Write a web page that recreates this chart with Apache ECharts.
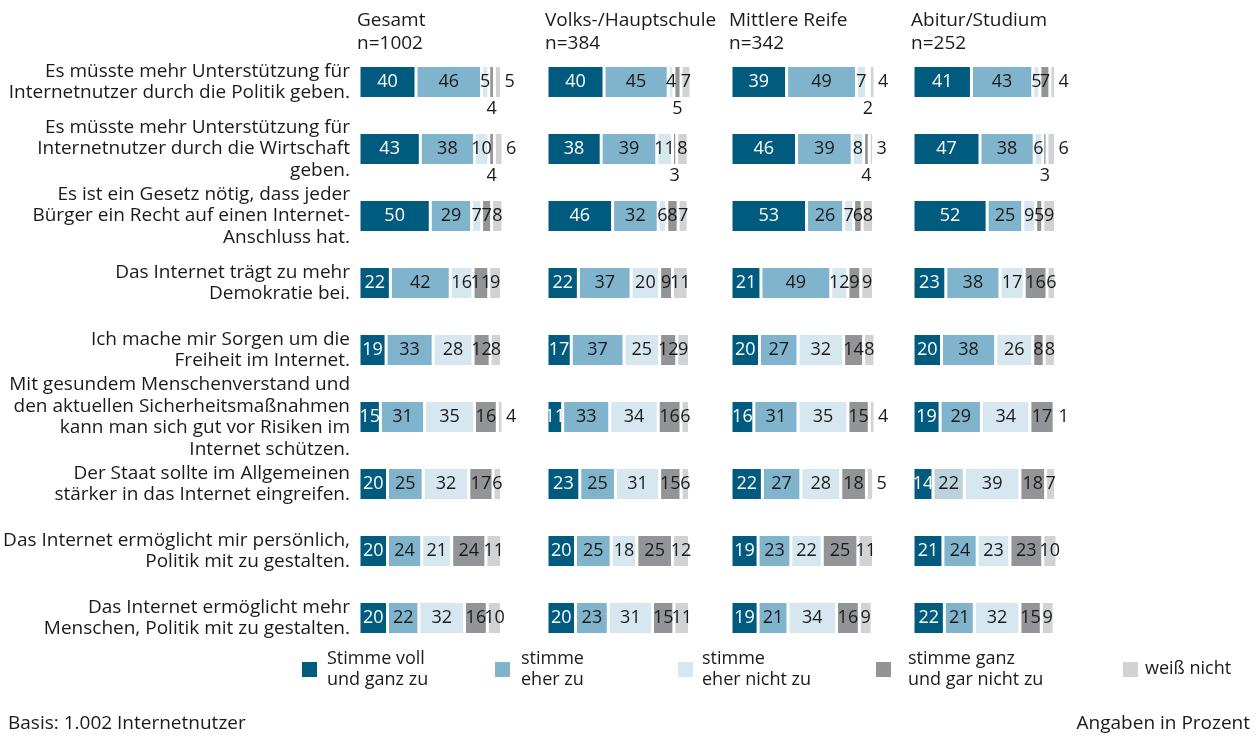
<!DOCTYPE html>
<html>
<head>
<meta charset="utf-8">
<script src="https://cdn.jsdelivr.net/npm/echarts@6/dist/echarts.min.js"></script>
<style>
html,body{margin:0;padding:0;background:#fff;}
#c{width:1258px;height:738px;}
</style>
</head>
<body>
<div id="c"></div>
<script>
// ---------- DATA ----------
const categories = [
  'Es müsste mehr Unterstützung für\nInternetnutzer durch die Politik geben.',
  'Es müsste mehr Unterstützung für\nInternetnutzer durch die Wirtschaft\ngeben.',
  'Es ist ein Gesetz nötig, dass jeder\nBürger ein Recht auf einen Internet-\nAnschluss hat.',
  'Das Internet trägt zu mehr\nDemokratie bei.',
  'Ich mache mir Sorgen um die\nFreiheit im Internet.',
  'Mit gesundem Menschenverstand und\nden aktuellen Sicherheitsmaßnahmen\nkann man sich gut vor Risiken im\nInternet schützen.',
  'Der Staat sollte im Allgemeinen\nstärker in das Internet eingreifen.',
  'Das Internet ermöglicht mir persönlich,\nPolitik mit zu gestalten.',
  'Das Internet ermöglicht mehr\nMenschen, Politik mit zu gestalten.'
];
const panelTitles = ['Gesamt', 'Volks-/Hauptschule', 'Mittlere Reife', 'Abitur/Studium'];
const panelN = ['n=1002', 'n=384', 'n=342', 'n=252'];
const segmentNames = ['Stimme voll\nund ganz zu', 'stimme\neher zu', 'stimme\neher nicht zu', 'stimme ganz\nund gar nicht zu', 'weiß nicht'];

// rows: [voll, eher, eher nicht, gar nicht, weiß nicht]
const gesamtRows = [
  [40, 46, 5, 4, 5],
  [43, 38, 10, 4, 6],
  [50, 29, 7, 7, 8],
  [22, 42, 16, 11, 9],
  [19, 33, 28, 12, 8],
  [15, 31, 35, 16, 4],
  [20, 25, 32, 17, 6],
  [20, 24, 21, 24, 11],
  [20, 22, 32, 16, 10]
];
const volksRows = [
  [40, 45, 4, 5, 7],
  [38, 39, 11, 3, 8],
  [46, 32, 6, 8, 7],
  [22, 37, 20, 9, 11],
  [17, 37, 25, 12, 9],
  [11, 33, 34, 16, 6],
  [23, 25, 31, 15, 6],
  [20, 25, 18, 25, 12],
  [20, 23, 31, 15, 11]
];
const mittlereRows = [
  [39, 49, 7, 2, 4],
  [46, 39, 8, 4, 3],
  [53, 26, 7, 6, 8],
  [21, 49, 12, 9, 9],
  [20, 27, 32, 14, 8],
  [16, 31, 35, 15, 4],
  [22, 27, 28, 18, 5],
  [19, 23, 22, 25, 11],
  [19, 21, 34, 16, 9]
];
const abiturRows = [
  [41, 43, 5, 7, 4],
  [47, 38, 6, 3, 6],
  [52, 25, 9, 5, 9],
  [23, 38, 17, 16, 6],
  [20, 38, 26, 8, 8],
  [19, 29, 34, 17, 1],
  [14, 22, 39, 18, 7],
  [21, 24, 23, 23, 10],
  [22, 21, 32, 15, 9]
];
const footLeft = 'Basis: 1.002 Internetnutzer';
const footRight = 'Angaben in Prozent';

// ---------- STYLE ----------
const colors = ['#005b7f', '#80b3cc', '#d6e7f0', '#929497', '#d1d2d4'];
const FONT = '"Open Sans", "Noto Sans", sans-serif';
const TXT = '#1a1a1a';
const panelLeft = [359, 547, 731, 913];
const gridTop = 48.5, gridHeight = 603, gridWidth = 144;

const allRows = [gesamtRows, volksRows, mittlereRows, abiturRows];

const yCats = categories.map(c => {
  const lines = c.split('\n').length;
  return lines >= 4 ? {value: c, textStyle: {padding: [0, 0, 16, 0]}} : c;
});

const grids = [], xAxes = [], yAxes = [], series = [];
allRows.forEach((rows, p) => {
  grids.push({left: panelLeft[p], top: gridTop, width: gridWidth, height: gridHeight});
  xAxes.push({type: 'value', gridIndex: p, min: 0, max: 101, show: false});
  yAxes.push({
    type: 'category', gridIndex: p, inverse: true, data: yCats,
    axisLine: {show: false}, axisTick: {show: false}, splitLine: {show: false},
    axisLabel: p === 0 ? {
      show: true, margin: 9, color: TXT, fontFamily: FONT, fontSize: 19,
      lineHeight: 21.5, align: 'right'
    } : {show: false}
  });
  segmentNames.forEach((name, s) => {
    series.push({
      name: name, type: 'bar', stack: 'p' + p, xAxisIndex: p, yAxisIndex: p,
      barWidth: 33, clip: false,
      itemStyle: {color: colors[s], borderColor: '#fff', borderWidth: 1.5},
      data: rows.map((r, i) => {
        const v = r[s];
        const item = {value: v};
        const below = r[3] <= 5 && r[4] <= 8;
        let pos = 'inside', dist = 5;
        if (s === 3 && below) { pos = 'bottom'; dist = 1; }
        if (s === 4 && (v <= 5 || (below && v <= 6))) { pos = 'right'; dist = 3; }
        item.label = {position: pos, distance: dist};
        if (p === 3 && i === 6 && s === 1) item.itemStyle = {color: '#bcd3de'};
        return item;
      }),
      label: {
        show: true, color: s === 0 ? '#fff' : TXT, fontFamily: FONT, fontSize: 18
      }
    });
  });
});

// headers, legend, footer as graphic text
const graphics = [];
panelTitles.forEach((t, p) => {
  graphics.push({type: 'text', x: panelLeft[p] - 2, y: 21,
    style: {text: t, font: '19px ' + FONT, fill: TXT, verticalAlign: 'middle'}});
  graphics.push({type: 'text', x: panelLeft[p] - 2, y: 44,
    style: {text: panelN[p], font: '19px ' + FONT, fill: TXT, verticalAlign: 'middle'}});
});
const legSq = [302, 495, 678, 876, 1123];
const legTx = [327, 521, 702, 908, 1145];
segmentNames.forEach((n, s) => {
  graphics.push({type: 'rect', shape: {x: legSq[s], y: 662, width: 15, height: 15},
    style: {fill: colors[s]}});
  graphics.push({type: 'text', x: legTx[s], y: 669,
    style: {text: n, font: '18px ' + FONT, fill: TXT, verticalAlign: 'middle', lineHeight: 21}});
});
graphics.push({type: 'text', x: 8, y: 724,
  style: {text: footLeft, font: '19px ' + FONT, fill: TXT, verticalAlign: 'middle'}});
graphics.push({type: 'text', x: 1250, y: 724,
  style: {text: footRight, font: '19px ' + FONT, fill: TXT, verticalAlign: 'middle', align: 'right'}});

const chart = echarts.init(document.getElementById('c'), null, {renderer: 'canvas'});
chart.setOption({
  animation: false,
  backgroundColor: '#fff',
  grid: grids, xAxis: xAxes, yAxis: yAxes, series: series,
  graphic: graphics
});
</script>
</body>
</html>
